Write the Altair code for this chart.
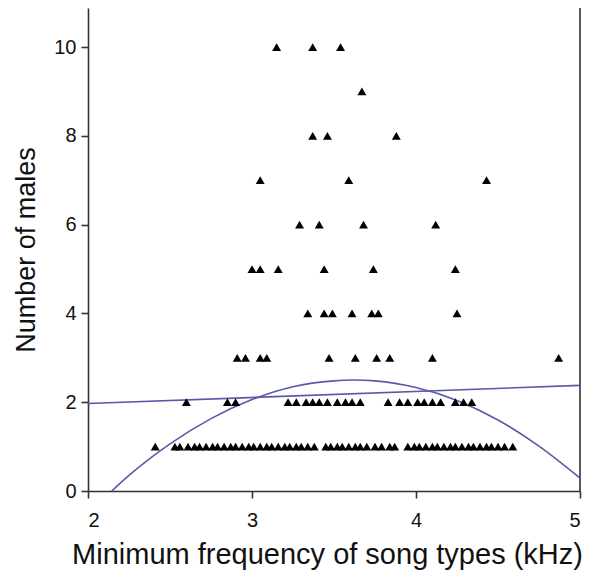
import altair as alt
import pandas as pd

# Minimum frequency (kHz) of song types, grouped by number of males sharing them
khz_10 = [3.15, 3.37, 3.54]
khz_9 = [3.67]
khz_8 = [3.37, 3.46, 3.88]
khz_7 = [3.05, 3.59, 4.43]
khz_6 = [3.29, 3.41, 3.68, 4.12]
khz_5 = [3.00, 3.05, 3.16, 3.44, 3.74, 4.24]
khz_4 = [3.34, 3.44, 3.49, 3.61, 3.73, 3.77, 4.25]
khz_3 = [2.91, 2.96, 3.05, 3.09, 3.47, 3.63, 3.76, 3.84, 4.10, 4.87]
khz_2 = [2.60, 2.85, 2.90, 3.22, 3.27, 3.33, 3.37, 3.41, 3.46, 3.52, 3.57, 3.61,
         3.66, 3.83, 3.90, 3.95, 4.01, 4.05, 4.10, 4.15, 4.24, 4.29, 4.34]
khz_1 = [2.41, 2.53, 2.56, 2.61, 2.65, 2.68, 2.72, 2.76, 2.79, 2.83, 2.87, 2.90,
         2.94, 2.98, 3.01, 3.05, 3.09, 3.12, 3.16, 3.20, 3.23, 3.27, 3.30, 3.34,
         3.38, 3.45, 3.48, 3.52, 3.55, 3.59, 3.63, 3.66, 3.70, 3.75, 3.79, 3.84,
         3.87, 3.95, 3.99, 4.02, 4.06, 4.10, 4.13, 4.17, 4.21, 4.24, 4.28, 4.32,
         4.35, 4.39, 4.43, 4.46, 4.50, 4.54, 4.59]

rows = {10: khz_10, 9: khz_9, 8: khz_8, 7: khz_7, 6: khz_6,
        5: khz_5, 4: khz_4, 3: khz_3, 2: khz_2, 1: khz_1}

# Linear fit
lin_khz = [2.0, 5.0]
lin_males = [1.97, 2.38]

# Quadratic fit
quad_khz = [2.145, 2.25, 2.5, 2.75, 3.0, 3.25, 3.5, 3.62, 3.75, 4.0, 4.25, 4.5, 4.75, 5.0]
quad_males = [0.0, 0.35, 1.06, 1.63, 2.06, 2.35, 2.48, 2.50, 2.48, 2.33, 2.04, 1.60, 1.01, 0.29]

x_ticks = [2, 3, 4, 5]
y_ticks = [0, 2, 4, 6, 8, 10]

pts = pd.DataFrame([{"khz": k, "males": m} for m, ks in rows.items() for k in ks])
lin_df = pd.DataFrame({"khz": lin_khz, "males": lin_males})
quad_df = pd.DataFrame({"khz": quad_khz, "males": quad_males})
border_df = pd.DataFrame({"khz": [5.0]})

x_enc = alt.X("khz:Q", scale=alt.Scale(domain=[2, 5], nice=False, zero=False),
              axis=alt.Axis(values=x_ticks, title="Minimum frequency of song types (kHz)",
                            labelPadding=12, titleX=239, titleY=72, titleAlign="center",
                            titleBaseline="alphabetic", titleFontSize=29))
y_enc = alt.Y("males:Q", scale=alt.Scale(domain=[0, 10.88], nice=False),
              axis=alt.Axis(values=y_ticks, title="Number of males", labelPadding=5,
                            titleX=-54, titleBaseline="alphabetic", titleFontSize=27))

line_color = "#5a58aa"

border = alt.Chart(border_df).mark_rule(color="#333333", strokeWidth=1.6).encode(x=x_enc)
lin = alt.Chart(lin_df).mark_line(color=line_color, strokeWidth=1.6, clip=True).encode(x=x_enc, y=y_enc)
quad = alt.Chart(quad_df).mark_line(color=line_color, strokeWidth=1.6, clip=True,
                                    interpolate="monotone").encode(x=x_enc, y=y_enc)
points = alt.Chart(pts).mark_point(shape="triangle-up", filled=True, color="black",
                                   size=80, opacity=1).encode(x=x_enc, y=y_enc)

chart = alt.layer(border, lin, quad, points).properties(
    width=492, height=483,
    autosize=alt.AutoSizeParams(type="none"),
    padding={"left": 80, "top": 0, "right": 12, "bottom": 80},
).configure_view(stroke=None).configure_axis(
    grid=False,
    domainColor="#333333", domainWidth=1.6,
    tickColor="#333333", tickWidth=1.6, tickSize=7,
    labelFont="Liberation Sans", labelFontSize=20, labelColor="#111111",
    titleFont="Liberation Sans", titleFontWeight="normal", titleColor="#111111",
)

chart.save("out.html", embed_options={"renderer": "svg", "actions": False})
